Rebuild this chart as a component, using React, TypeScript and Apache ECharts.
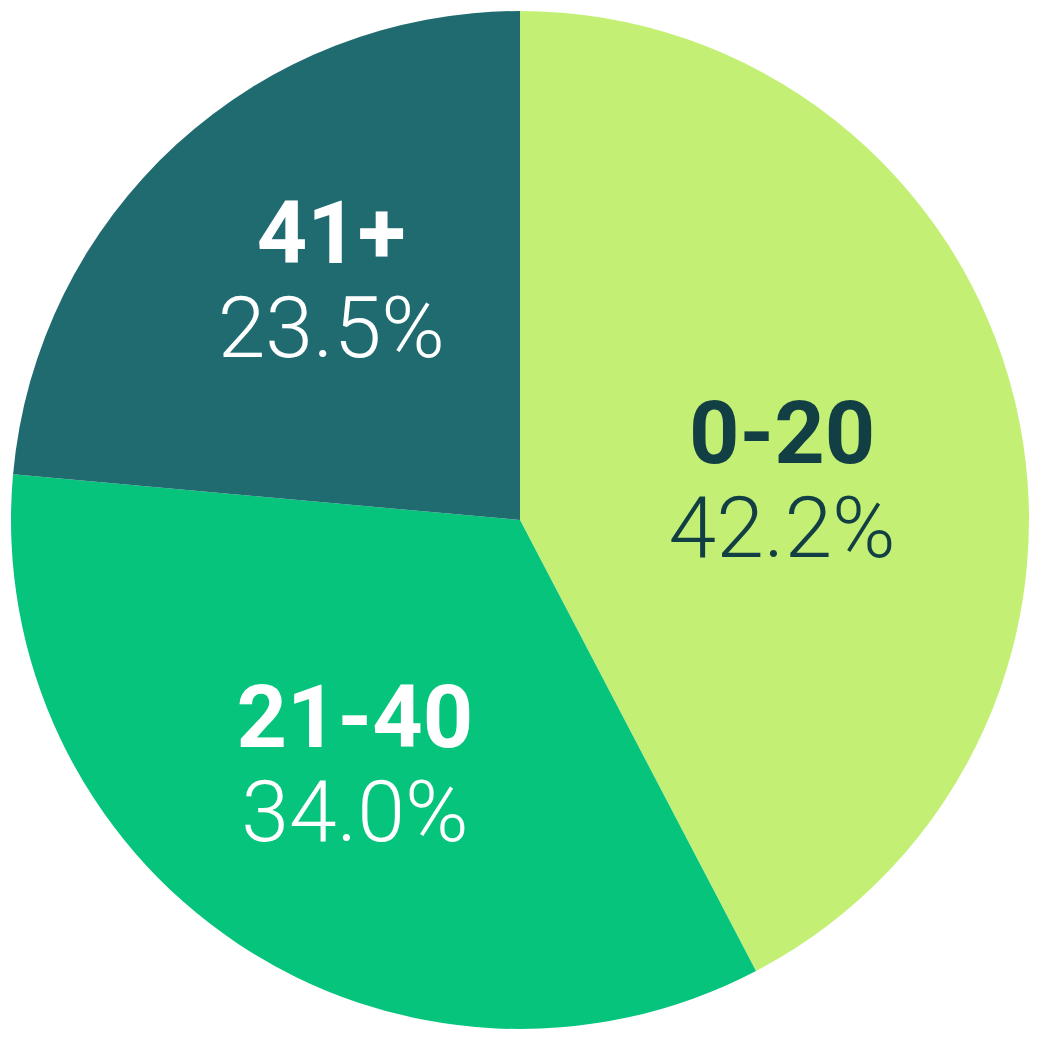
import React, { useEffect, useRef } from "react";
import * as echarts from "echarts";

const categories = ["0-20", "21-40", "41+"];
const values = [42.2, 34.0, 23.5];
const colors = ["#C3F074", "#07C47C", "#1F6B70"];
const textColors = ["#123F43", "#FFFFFF", "#FFFFFF"];
const labelOffsets: [number, number][] = [
  [12, 21],
  [-22, 30],
  [-15, -50],
];

export default function App() {
  const ref = useRef<HTMLDivElement>(null);
  useEffect(() => {
    if (!ref.current) return;
    const chart = echarts.init(ref.current, undefined, { renderer: "svg" });
    const data = categories.map((name, i) => ({
      name,
      value: values[i],
      itemStyle: { color: colors[i] },
      label: {
        offset: labelOffsets[i],
        rich: {
          n: {
            fontFamily: "Roboto",
            fontWeight: 700,
            fontSize: 88,
            lineHeight: 95,
            color: textColors[i],
          },
          p: {
            fontFamily: "Roboto",
            fontWeight: 300,
            fontSize: 86,
            lineHeight: 95,
            color: textColors[i],
          },
        },
      },
    }));
    chart.setOption({
      animation: false,
      backgroundColor: "#FFFFFF",
      series: [
        {
          type: "pie",
          center: ["50%", "50%"],
          radius: 509,
          startAngle: 90,
          clockwise: true,
          avoidLabelOverlap: false,
          itemStyle: { borderWidth: 0 },
          emphasis: { disabled: true },
          label: {
            show: true,
            position: "inside",
            align: "center",
            verticalAlign: "middle",
            formatter: (p: any) => `{n|${p.name}}\n{p|${p.value.toFixed(1)}%}`,
          },
          labelLine: { show: false },
          data,
        },
      ],
    });
    return () => chart.dispose();
  }, []);
  return (
    <div
      ref={ref}
      style={{ position: "absolute", left: 0, top: 0, width: 1040, height: 1040 }}
    />
  );
}
